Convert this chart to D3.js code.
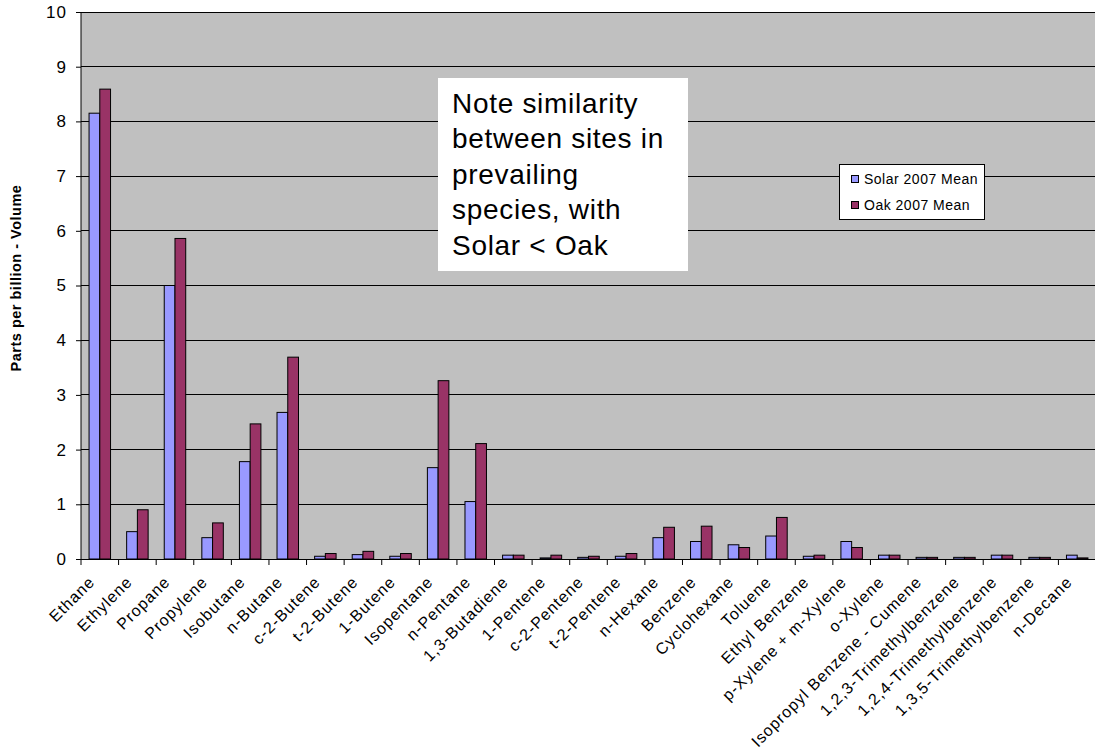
<!DOCTYPE html>
<html>
<head>
<meta charset="utf-8">
<script src="https://cdn.jsdelivr.net/npm/d3@7"></script>
<style>
  html, body { margin: 0; padding: 0; background: #fff; }
  svg { display: block; font-family: "Liberation Sans", Arial, sans-serif; }
</style>
</head>
<body>
<svg id="chart" width="1095" height="753"></svg>
<script>
// Compounds measured at both sites
const species = [
  "Ethane", "Ethylene", "Propane", "Propylene", "Isobutane", "n-Butane",
  "c-2-Butene", "t-2-Butene", "1-Butene", "Isopentane", "n-Pentane",
  "1,3-Butadiene", "1-Pentene", "c-2-Pentene", "t-2-Pentene", "n-Hexane",
  "Benzene", "Cyclohexane", "Toluene", "Ethyl Benzene", "p-Xylene + m-Xylene",
  "o-Xylene", "Isopropyl Benzene - Cumene", "1,2,3-Trimethylbenzene",
  "1,2,4-Trimethylbenzene", "1,3,5-Trimethylbenzene", "n-Decane"
];

// 2007 mean concentrations (ppbV)
const solarMean = [
  8.15, 0.50, 5.00, 0.39, 1.78, 2.68,
  0.05, 0.08, 0.05, 1.67, 1.05,
  0.07, 0.02, 0.03, 0.05, 0.39,
  0.32, 0.26, 0.42, 0.05, 0.32,
  0.07, 0.03, 0.03, 0.07, 0.03, 0.07
];
const oakMean = [
  8.59, 0.90, 5.86, 0.66, 2.47, 3.69,
  0.10, 0.14, 0.10, 3.26, 2.11,
  0.07, 0.07, 0.05, 0.10, 0.58,
  0.60, 0.21, 0.76, 0.07, 0.21,
  0.07, 0.03, 0.03, 0.07, 0.03, 0.02
];

const seriesNames = ["Solar 2007 Mean", "Oak 2007 Mean"];
const seriesColors = ["#9999FF", "#993366"];
const yTicks = [0, 1, 2, 3, 4, 5, 6, 7, 8, 9, 10];
const noteLines = ["Note similarity", "between sites in", "prevailing", "species, with", "Solar < Oak"];

const svg = d3.select("#chart");
const plot = { left: 81, right: 1096, top: 12, bottom: 559 };

const x = d3.scaleBand()
  .domain(species)
  .range([plot.left, plot.right])
  .paddingInner(0)
  .paddingOuter(0);

const y = d3.scaleLinear().domain([0, 10]).range([plot.bottom, plot.top]);

// Plot background
svg.append("rect")
  .attr("x", plot.left).attr("y", plot.top)
  .attr("width", plot.right - plot.left).attr("height", plot.bottom - plot.top)
  .attr("fill", "#C0C0C0");

// Horizontal gridlines
svg.append("g")
  .selectAll("line")
  .data(yTicks.filter(d => d > 0))
  .join("line")
  .attr("x1", plot.left).attr("x2", plot.right)
  .attr("y1", d => y(d)).attr("y2", d => y(d))
  .attr("stroke", "#000").attr("stroke-width", 1)
  .attr("shape-rendering", "crispEdges");

// Bars: each category holds two bars with a 150% gap
const barW = x.bandwidth() / 3.5;
const groups = svg.append("g")
  .selectAll("g")
  .data(species.map((s, i) => ({ s, vals: [solarMean[i], oakMean[i]] })))
  .join("g")
  .attr("transform", d => `translate(${x(d.s) + barW * 0.75},0)`);

groups.selectAll("rect")
  .data(d => d.vals.map((v, k) => ({ v, k })))
  .join("rect")
  .attr("x", d => d.k * barW)
  .attr("y", d => y(d.v))
  .attr("width", barW)
  .attr("height", d => y(0) - y(d.v))
  .attr("fill", d => seriesColors[d.k])
  .attr("stroke", "#000")
  .attr("stroke-width", 1);

// Y axis
const yAxis = svg.append("g")
  .attr("transform", `translate(${plot.left},0)`)
  .call(d3.axisLeft(y).tickValues(yTicks).tickSize(5).tickPadding(9).tickFormat(d3.format("d")));
yAxis.select(".domain").attr("stroke", "#000").attr("d", `M0,${plot.top}V${plot.bottom}`);
yAxis.selectAll(".tick line").attr("stroke", "#000");
yAxis.selectAll(".tick text")
  .attr("font-size", 17)
  .attr("letter-spacing", "1px")
  .attr("fill", "#000")
  .attr("font-family", "\"Liberation Sans\", Arial, sans-serif");

// X axis: ticks mark category boundaries
const xAxisG = svg.append("g").attr("transform", `translate(0,${plot.bottom})`);
xAxisG.append("line")
  .attr("x1", plot.left).attr("x2", plot.right)
  .attr("stroke", "#000").attr("shape-rendering", "crispEdges");
xAxisG.selectAll("line.tk")
  .data(species)
  .join("line")
  .attr("class", "tk")
  .attr("x1", d => x(d)).attr("x2", d => x(d))
  .attr("y1", 0).attr("y2", 6)
  .attr("stroke", "#000");

xAxisG.selectAll("text")
  .data(species)
  .join("text")
  .attr("transform", d => `translate(${x(d) + x.bandwidth() / 2 - 8},${20}) rotate(-45)`)
  .attr("text-anchor", "end")
  .attr("dy", "0.35em")
  .attr("font-size", 16)
  .attr("letter-spacing", "1px")
  .attr("fill", "#000")
  .text(d => d);

// Y axis title
svg.append("text")
  .attr("transform", `translate(21,278) rotate(-90)`)
  .attr("text-anchor", "middle")
  .attr("font-size", 14.5)
  .attr("font-weight", "bold")
  .attr("letter-spacing", "0.5px")
  .attr("fill", "#000")
  .text("Parts per billion - Volume");

// Note box
const note = svg.append("g");
note.append("rect")
  .attr("x", 438).attr("y", 78).attr("width", 250).attr("height", 193)
  .attr("fill", "#fff");
note.selectAll("text")
  .data(noteLines)
  .join("text")
  .attr("x", 452)
  .attr("y", (d, i) => 113 + i * 35.4)
  .attr("font-size", 28)
  .attr("letter-spacing", "0.7px")
  .attr("fill", "#000")
  .text(d => d);

// Legend
const legend = svg.append("g");
legend.append("rect")
  .attr("x", 839.5).attr("y", 164.5).attr("width", 145).attr("height", 55)
  .attr("fill", "#fff").attr("stroke", "#000");
const items = legend.selectAll("g")
  .data(seriesNames)
  .join("g")
  .attr("transform", (d, i) => `translate(851,${179 + i * 26})`);
items.append("rect")
  .attr("x", 0.5).attr("y", -3.5).attr("width", 7).attr("height", 7)
  .attr("fill", (d, i) => seriesColors[i]).attr("stroke", "#000");
items.append("text")
  .attr("x", 13).attr("dy", "0.35em")
  .attr("font-size", 14)
  .attr("letter-spacing", "0.5px")
  .attr("fill", "#000")
  .text(d => d);
</script>
</body>
</html>
